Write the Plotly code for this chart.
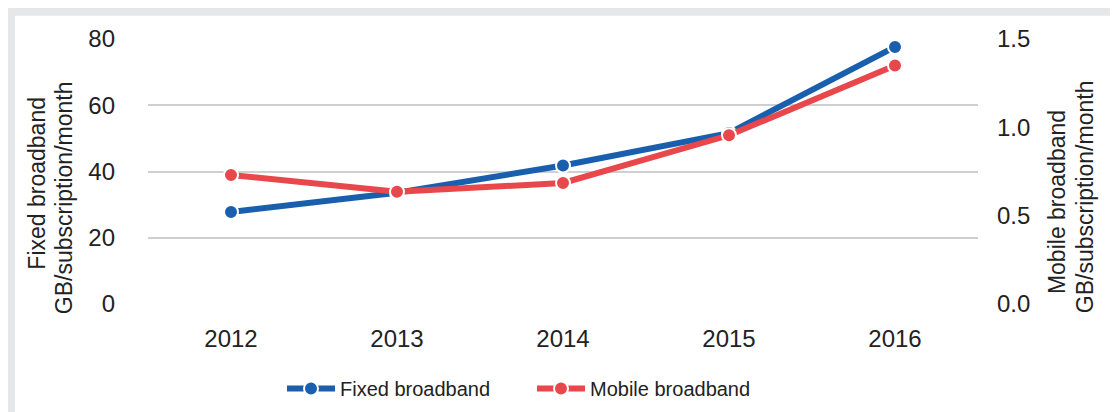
import plotly.graph_objects as go

years = ["2012", "2013", "2014", "2015", "2016"]
fixed_gb = [27.8, 33.6, 41.8, 51.6, 77.6]
mobile_gb = [0.73, 0.635, 0.685, 0.955, 1.35]

left_title = ["Fixed broadband", "GB/subscription/month"]
right_title = ["Mobile broadband", "GB/subscription/month"]

BLUE = "#1a5fae"
RED = "#e8474b"
FONT = "Liberation Sans, Arial, sans-serif"

W, H = 1118, 412
L, R, T, B = 140, 148, 31, 108
pw, ph = W - L - R, H - T - B

def px(x):
    return (x - L) / pw

def py(y):
    return (H - B - y) / ph

fig = go.Figure()
fig.add_trace(go.Scatter(
    x=years, y=fixed_gb, name="Fixed broadband", mode="lines+markers",
    line=dict(color=BLUE, width=6),
    marker=dict(size=14, color=BLUE, line=dict(color="white", width=2)),
    yaxis="y",
))
fig.add_trace(go.Scatter(
    x=years, y=mobile_gb, name="Mobile broadband", mode="lines+markers",
    line=dict(color=RED, width=6),
    marker=dict(size=14, color=RED, line=dict(color="white", width=2)),
    yaxis="y2",
))

annotations = []
for (xpix, ypix, txt) in [(29, 180, left_title[0]), (56, 195, left_title[1]),
                          (1049, 199, right_title[0]), (1077, 194, right_title[1])]:
    annotations.append(dict(text=txt, xref="paper", yref="paper", x=px(xpix), y=py(ypix),
                            xanchor="center", yanchor="middle", textangle=-90,
                            showarrow=False, font=dict(size=23, color="#222222")))

fig.update_layout(
    width=W, height=H,
    margin=dict(l=L, r=R, t=T, b=B),
    paper_bgcolor="#e6e7e9",
    plot_bgcolor="white",
    font=dict(family=FONT, size=24, color="#222222"),
    showlegend=True,
    legend=dict(orientation="h", x=px(274), xanchor="left", y=py(391), yanchor="middle",
                font=dict(size=20), bgcolor="rgba(0,0,0,0)", itemwidth=48,
                entrywidth=187, entrywidthmode="pixels"),
    xaxis=dict(type="category", range=[-0.5, 4.5], showgrid=False, zeroline=False,
               showline=False, ticks="", tickfont=dict(size=24), ticklabelstandoff=18),
    yaxis=dict(range=[0, 80], tickvals=[0, 20, 40, 60, 80], showgrid=True,
               gridcolor="#cfcfcf", gridwidth=2, zeroline=False, showline=False,
               ticks="", ticklabelstandoff=32, tickfont=dict(size=24)),
    yaxis2=dict(range=[0, 1.5], tickvals=[0, 0.5, 1.0, 1.5], ticktext=["0.0", "0.5", "1.0", "1.5"],
                overlaying="y", side="right", showgrid=False, zeroline=False,
                showline=False, ticks="", ticklabelstandoff=18, tickfont=dict(size=24)),
    annotations=annotations,
    shapes=[dict(type="rect", xref="paper", yref="paper", layer="below",
                 x0=px(7), x1=px(W + 5), y0=py(7), y1=py(H + 5),
                 fillcolor="white", line=dict(width=0))],
)

fig.write_html("out.html")
